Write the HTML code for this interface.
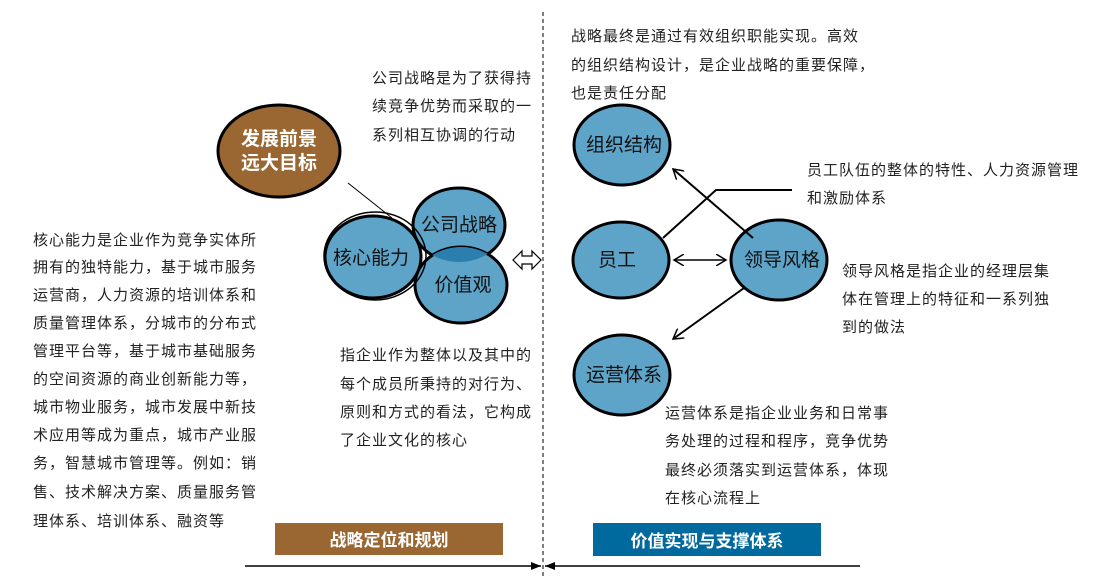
<!DOCTYPE html>
<html><head><meta charset="utf-8"><style>
body{margin:0;background:#fff}
svg{display:block}
text{font-family:"Liberation Sans","Noto Sans CJK SC",sans-serif}
.t{font-size:15px;fill:#222;letter-spacing:1px}
.l{font-size:19px;fill:#111}
</style></head><body>
<svg width="1112" height="579" viewBox="0 0 1112 579" xmlns="http://www.w3.org/2000/svg">
<defs>
<marker id="a" markerWidth="12" markerHeight="12" refX="10" refY="6" orient="auto-start-reverse" markerUnits="userSpaceOnUse"><path d="M0,0 L10,6 L0,12" fill="none" stroke="#000" stroke-width="1.5"/></marker>
<marker id="b" markerWidth="10" markerHeight="8" refX="10" refY="4" orient="auto" markerUnits="userSpaceOnUse"><path d="M0,0 L10,4 L0,8z" fill="#000"/></marker>
<clipPath id="c1"><ellipse cx="459" cy="225" rx="46" ry="37"/></clipPath>
</defs>
<line x1="543" y1="12" x2="543" y2="579" stroke="#000" stroke-dasharray="4,3"/>
<ellipse cx="279" cy="151" rx="61" ry="46" fill="#9a6632" stroke="#000" stroke-width="3"/>
<text x="279" y="145" text-anchor="middle" font-size="19" font-weight="bold" fill="#fff">发展前景</text>
<text x="279" y="169" text-anchor="middle" font-size="19" font-weight="bold" fill="#fff">远大目标</text>
<line x1="348" y1="183" x2="392" y2="218" stroke="#000"/>
<ellipse cx="459" cy="225" rx="46" ry="37" fill="#5ea4c8" stroke="#000" stroke-width="3"/>
<ellipse cx="461" cy="285" rx="46" ry="38" fill="#5ea4c8" stroke="#000" stroke-width="3"/>
<ellipse cx="461" cy="285" rx="46" ry="38" fill="#2a7fae" clip-path="url(#c1)"/>
<ellipse cx="373" cy="257" rx="48" ry="41" fill="#5ea4c8" stroke="#000" stroke-width="3"/>
<ellipse cx="375" cy="256" rx="51" ry="44" fill="none" stroke="#000" stroke-width="1.5"/>
<text x="459" y="231" text-anchor="middle" class="l">公司战略</text>
<text x="463" y="291" text-anchor="middle" class="l">价值观</text>
<text x="371" y="264" text-anchor="middle" class="l">核心能力</text>
<path d="M513,260 L522,251 L522,256 L532,256 L532,251 L541,260 L532,269 L532,264 L522,264 L522,269 Z" fill="#fff" stroke="#000" stroke-width="1.2"/>
<ellipse cx="622" cy="145" rx="48" ry="40" fill="#5ea4c8" stroke="#000" stroke-width="3"/>
<ellipse cx="621" cy="260" rx="48" ry="38" fill="#5ea4c8" stroke="#000" stroke-width="3"/>
<ellipse cx="779" cy="260" rx="48" ry="40" fill="#5ea4c8" stroke="#000" stroke-width="3"/>
<ellipse cx="622" cy="375" rx="48" ry="40" fill="#5ea4c8" stroke="#000" stroke-width="3"/>
<text x="624" y="151" text-anchor="middle" class="l">组织结构</text>
<text x="617" y="266" text-anchor="middle" class="l">员工</text>
<text x="782" y="266" text-anchor="middle" class="l">领导风格</text>
<text x="624" y="381" text-anchor="middle" class="l">运营体系</text>
<line x1="753" y1="238" x2="673" y2="169" stroke="#000" stroke-width="2" marker-end="url(#a)"/>
<polyline points="663,238 716,190 792,190" fill="none" stroke="#000" stroke-width="2"/>
<line x1="674" y1="260" x2="726" y2="260" stroke="#000" stroke-width="1.5" marker-end="url(#a)" marker-start="url(#a)"/>
<line x1="744" y1="288" x2="673" y2="339" stroke="#000" stroke-width="2" marker-end="url(#a)"/>
<g class="t">
<text x="372" y="83">公司战略是为了获得持</text>
<text x="372" y="111">续竞争优势而采取的一</text>
<text x="372" y="140">系列相互协调的行动</text>
<text x="571" y="41">战略最终是通过有效组织职能实现。高效</text>
<text x="571" y="70">的组织结构设计，是企业战略的重要保障，</text>
<text x="571" y="98">也是责任分配</text>
<text x="807" y="175">员工队伍的整体的特性、人力资源管理</text>
<text x="807" y="203">和激励体系</text>
<text x="842" y="276">领导风格是指企业的经理层集</text>
<text x="842" y="304">体在管理上的特征和一系列独</text>
<text x="842" y="332">到的做法</text>
<text x="340" y="360">指企业作为整体以及其中的</text>
<text x="340" y="389">每个成员所秉持的对行为、</text>
<text x="340" y="417">原则和方式的看法，它构成</text>
<text x="340" y="445">了企业文化的核心</text>
<text x="665" y="418">运营体系是指企业业务和日常事</text>
<text x="665" y="446">务处理的过程和程序，竞争优势</text>
<text x="665" y="475">最终必须落实到运营体系，体现</text>
<text x="665" y="503">在核心流程上</text>
<text x="33" y="245">核心能力是企业作为竞争实体所</text>
<text x="33" y="272">拥有的独特能力，基于城市服务</text>
<text x="33" y="300">运营商，人力资源的培训体系和</text>
<text x="33" y="328">质量管理体系，分城市的分布式</text>
<text x="33" y="356">管理平台等，基于城市基础服务</text>
<text x="33" y="384">的空间资源的商业创新能力等，</text>
<text x="33" y="412">城市物业服务，城市发展中新技</text>
<text x="33" y="440">术应用等成为重点，城市产业服</text>
<text x="33" y="468">务，智慧城市管理等。例如：销</text>
<text x="33" y="497">售、技术解决方案、质量服务管</text>
<text x="33" y="526">理体系、培训体系、融资等</text>
</g>
<rect x="275" y="523" width="228" height="32" fill="#9a6632"/>
<text x="389" y="546" text-anchor="middle" font-size="17" font-weight="bold" fill="#fff">战略定位和规划</text>
<rect x="593" y="523" width="228" height="33" fill="#006a9e"/>
<text x="707" y="547" text-anchor="middle" font-size="17" font-weight="bold" fill="#fff">价值实现与支撑体系</text>
<line x1="245" y1="566" x2="541" y2="566" stroke="#000" stroke-width="1.5" marker-end="url(#b)"/>
<line x1="860" y1="566" x2="545" y2="566" stroke="#000" stroke-width="1.5" marker-end="url(#b)"/>
</svg>
</body></html>
